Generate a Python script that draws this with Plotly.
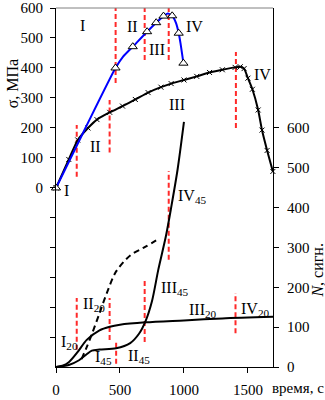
import plotly.graph_objects as go

# ---- data ----
# stress curve with "x" markers (black)
t_sig_black = [0, 100, 170, 250, 320, 420, 520, 620, 720, 820, 900, 1000, 1100,
               1200, 1300, 1400, 1440, 1470, 1500, 1535, 1580, 1610, 1650, 1695]
sig_black = [0, 95, 160, 200, 228, 252, 273, 295, 318, 336, 348, 360, 372,
             385, 394, 402, 404, 398, 366, 329, 260, 193, 125, 55]

# stress curve (blue) and its triangle points
t_sig_blue = [0, 230, 465, 523, 600, 712, 783, 840, 873, 908, 939, 959, 973, 996]
sig_blue = [0, 200, 400, 437, 471, 521, 551, 573, 582, 574, 549, 516, 483, 416]
t_tri = [0, 465, 600, 712, 783, 840, 908, 959, 996]
sig_tri = [0, 400, 471, 521, 551, 573, 574, 516, 416]

# acoustic emission counts N
t_n20 = [0, 50, 100, 170, 240, 340, 420, 500, 700, 1000, 1300, 1696]
n20 = [0, 3, 12, 38, 68, 92, 101, 106, 112, 117, 122, 126]

t_n45 = [0, 100, 180, 240, 280, 340, 470, 580, 650, 700, 750, 800, 860, 900, 950, 1000]
n45 = [0, 5, 17, 32, 41, 44, 47, 60, 84, 115, 165, 245, 330, 400, 495, 615]

t_ndash = [200, 240, 280, 340, 400, 470, 580, 700, 810]
n_dash = [20, 50, 82, 135, 188, 240, 280, 302, 323]

# stage boundaries (red dashed)
sig_stage_t = [162, 419, 466, 693, 881, 1406]
sig_stage_lo = [37, 118, 350, 427, 427, 200]
sig_stage_hi = [210, 293, 600, 600, 600, 453]

n_stage_t = [162, 419, 470, 693, 881, 1403]
n_stage_lo = [43, 68, 8, 63, 269, 85]
n_stage_hi = [173, 173, 68, 218, 492, 186]

# stage labels
sig_lab_text = ["I", "II", "III", "IV", "III", "IV", "II", "I"]
sig_lab_t = [210, 594, 790, 1085, 946, 1615, 309, 80]
sig_lab_v = [540, 538, 462, 538, 277, 377, 138, -9]

n_lab_main = ["II", "I", "I", "II", "III", "III", "IV", "IV"]
n_lab_sub = ["20", "20", "45", "45", "45", "20", "45", "20"]
n_lab_t = [197, 27, 288, 544, 805, 1025, 936, 1432]
n_lab_v = [158, 61, 24, 26, 196, 141, 427, 145]

x_ticks = [0, 500, 1000, 1500]
sig_ticks = [-500, -400, -300, -200, -100, 0, 100, 200, 300, 400, 500, 600]
sig_ticklabels = ["", "", "", "", "", "0", "100", "200", "300", "400", "500", "600"]
n_ticks = [0, 100, 200, 300, 400, 500, 600]

FONT = "Liberation Serif"

fig = go.Figure()


def seg(xs, lo, hi):
    X, Y = [], []
    for x, a, b in zip(xs, lo, hi):
        X += [x, x, None]
        Y += [a, b, None]
    return X, Y


# red stage lines
sx, sy = seg(sig_stage_t, sig_stage_lo, sig_stage_hi)
fig.add_trace(go.Scatter(x=sx, y=sy, mode="lines", yaxis="y",
                         line=dict(color="#ff2a2a", width=2, dash="5px,3px")))
nx, ny = seg(n_stage_t, n_stage_lo, n_stage_hi)
fig.add_trace(go.Scatter(x=nx, y=ny, mode="lines", yaxis="y2",
                         line=dict(color="#ff2a2a", width=2, dash="5px,3px")))

# N curves
fig.add_trace(go.Scatter(x=t_n20, y=n20, mode="lines", yaxis="y2",
                         line=dict(color="black", width=2, shape="spline", smoothing=0.8)))
fig.add_trace(go.Scatter(x=t_n45, y=n45, mode="lines", yaxis="y2",
                         line=dict(color="black", width=2, shape="spline", smoothing=0.8)))
fig.add_trace(go.Scatter(x=t_ndash, y=n_dash, mode="lines", yaxis="y2",
                         line=dict(color="black", width=2, dash="6px,4px",
                                   shape="spline", smoothing=0.8)))

# stress curves
fig.add_trace(go.Scatter(x=t_sig_black, y=sig_black, mode="lines+markers", yaxis="y",
                         cliponaxis=False,
                         line=dict(color="black", width=2, shape="spline", smoothing=0.6),
                         marker=dict(symbol="x-thin", size=5, line=dict(color="black", width=1))))
fig.add_trace(go.Scatter(x=t_sig_blue, y=sig_blue, mode="lines", yaxis="y",
                         line=dict(color="#0000ff", width=2, shape="spline", smoothing=0.6)))
fig.add_trace(go.Scatter(x=t_tri, y=sig_tri, mode="markers", yaxis="y", cliponaxis=False,
                         marker=dict(symbol="triangle-up", size=8, color="white",
                                     line=dict(color="black", width=1))))

ann = []
for txt, t, v in zip(sig_lab_text, sig_lab_t, sig_lab_v):
    ann.append(dict(x=t, y=v, xref="x", yref="y", text=txt, showarrow=False,
                    xanchor="center", yanchor="middle",
                    font=dict(family=FONT, size=16, color="black")))
for m, s, t, v in zip(n_lab_main, n_lab_sub, n_lab_t, n_lab_v):
    ann.append(dict(x=t, y=v, xref="x", yref="y2", text=f"{m}<sub>{s}</sub>", showarrow=False,
                    xanchor="left", yanchor="middle",
                    font=dict(family=FONT, size=16, color="black")))

ann.append(dict(x=-0.203, y=0.79, xref="paper", yref="paper", text="σ, МПа", textangle=-90,
                showarrow=False, xanchor="center", yanchor="middle",
                font=dict(family=FONT, size=16, color="black")))
ann.append(dict(x=1.205, y=0.27, xref="paper", yref="paper", text="<i>N</i>, сигн.", textangle=-90,
                showarrow=False, xanchor="center", yanchor="middle",
                font=dict(family=FONT, size=16, color="black")))
ann.append(dict(x=0.986, y=-0.058, xref="paper", yref="paper", text="время, с",
                showarrow=False, xanchor="left", yanchor="middle",
                font=dict(family=FONT, size=15, color="black")))

fig.update_layout(
    width=325, height=400,
    margin=dict(l=56, r=52, t=8, b=33, autoexpand=False),
    plot_bgcolor="white", paper_bgcolor="white",
    showlegend=False,
    annotations=ann,
    shapes=[dict(type="line", xref="paper", yref="paper", x0=0, x1=1, y0=1, y1=1,
                 line=dict(color="#808080", width=1))],
    xaxis=dict(range=[0, 1696], tickvals=x_ticks, ticks="outside", ticklen=5,
               tickcolor="black", showline=True, linecolor="black", linewidth=1,
               showgrid=False, zeroline=False, ticklabelstandoff=4, automargin=False,
               tickfont=dict(family=FONT, size=15, color="black")),
    yaxis=dict(range=[-597, 600], tickvals=sig_ticks, ticktext=sig_ticklabels,
               ticks="outside", ticklen=5, tickcolor="black", showline=True,
               linecolor="black", linewidth=1, showgrid=False, zeroline=False,
               ticklabelstandoff=4, automargin=False,
               tickfont=dict(family=FONT, size=15, color="black")),
    yaxis2=dict(range=[0, 901], tickvals=n_ticks, overlaying="y", side="right",
                anchor="x", ticks="outside", ticklen=5, tickcolor="black",
                showline=True, linecolor="black", linewidth=1, showgrid=False,
                zeroline=False, ticklabelstandoff=5, automargin=False,
                tickfont=dict(family=FONT, size=15, color="black")),
)

fig.write_html("out.html")
